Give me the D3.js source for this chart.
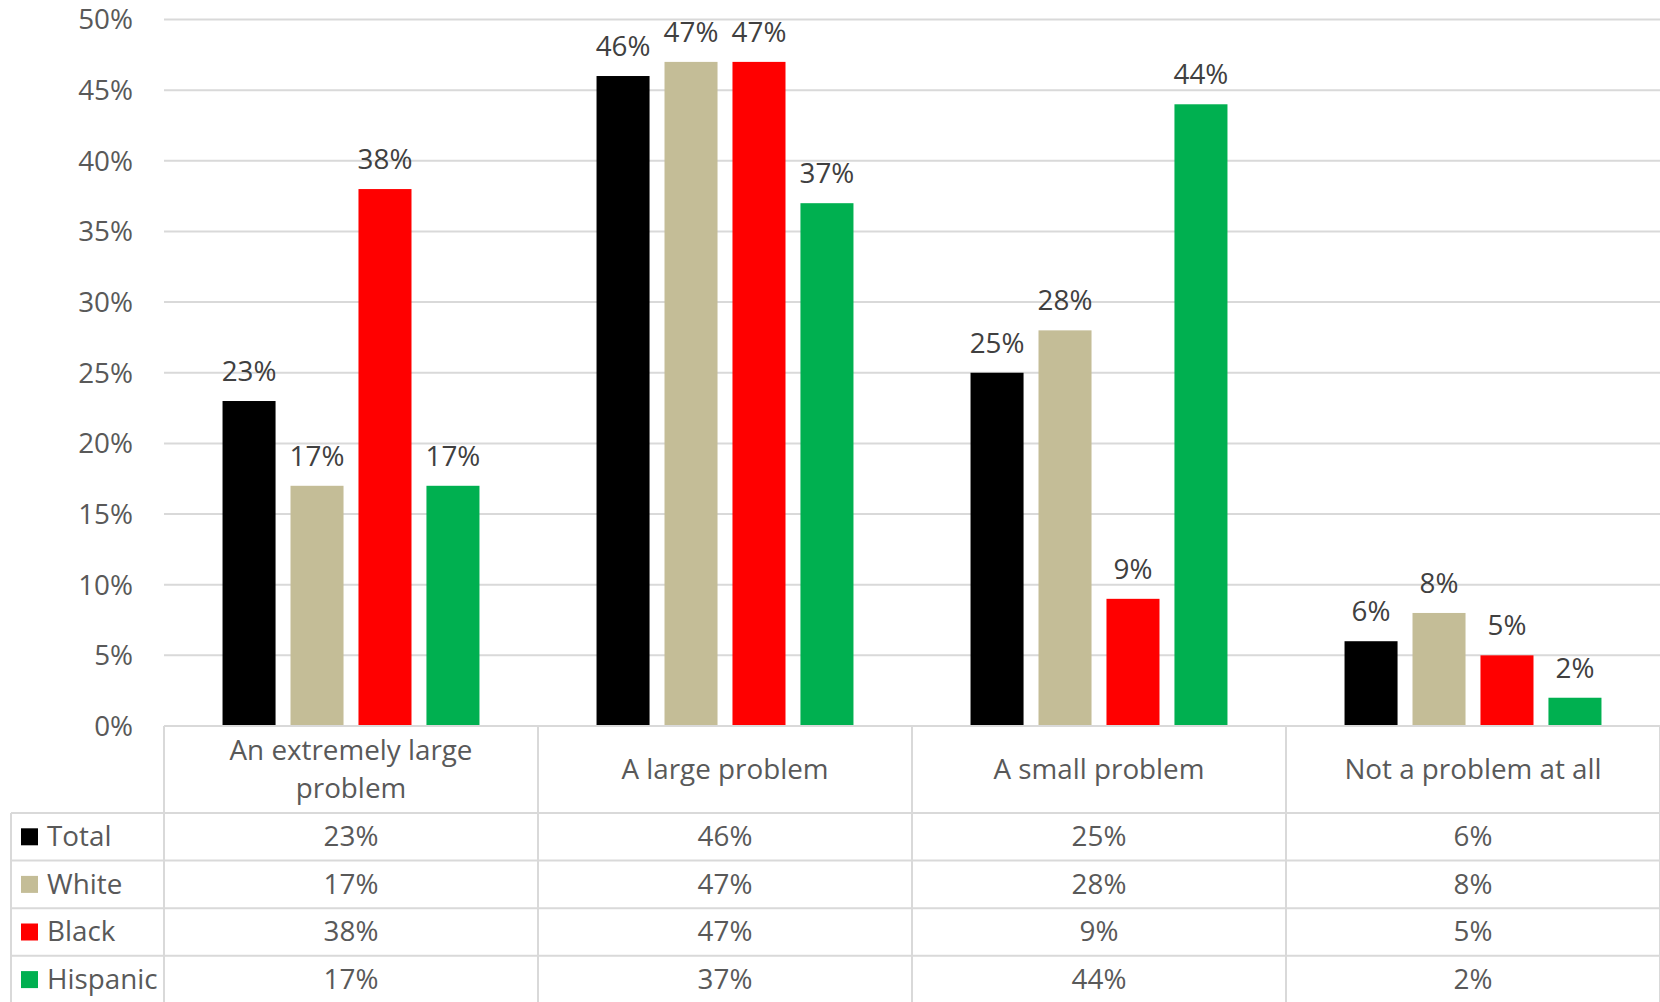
<!DOCTYPE html>
<html>
<head>
<meta charset="utf-8">
<script src="https://cdn.jsdelivr.net/npm/d3@7"></script>
<style>
  html, body { margin: 0; padding: 0; background: #fff; }
  svg { display: block; }
  text { font-family: "Open Sans", "Noto Sans", sans-serif; }
</style>
</head>
<body>
<svg id="chart" width="1660" height="1002"></svg>
<script>
// ---- data ----
const categories = ["An extremely large problem", "A large problem", "A small problem", "Not a problem at all"];
const categoryLines = [["An extremely large", "problem"], ["A large problem"], ["A small problem"], ["Not a problem at all"]];
const seriesNames = ["Total", "White", "Black", "Hispanic"];
const totalValues = [23, 46, 25, 6];
const whiteValues = [17, 47, 28, 8];
const blackValues = [38, 47, 9, 5];
const hispanicValues = [17, 37, 44, 2];
const yTicks = [0, 5, 10, 15, 20, 25, 30, 35, 40, 45, 50];
const seriesColors = ["#000000", "#c4bd97", "#ff0000", "#00b050"];

const seriesValues = [totalValues, whiteValues, blackValues, hispanicValues];

// ---- layout ----
const W = 1660, H = 1002;
const plotLeft = 164, plotRight = 1660, plotTop = 19.5, plotBottom = 726;
const headerBottom = 813;
const rowH = 47.6;
const legendLeft = 11;
const gridColor = "#d9d9d9";
const axisText = "#595959";
const labelText = "#404040";
const fs = 27.8;

const svg = d3.select("#chart");

const x0 = d3.scaleBand().domain(categories).range([plotLeft, plotRight]).paddingInner(0.313).paddingOuter(0.1565);
const x1 = d3.scaleBand().domain(seriesNames).range([0, x0.bandwidth()]).paddingInner(0.22).paddingOuter(0);
const y = d3.scaleLinear().domain([0, 50]).range([plotBottom, plotTop]);

// gridlines
svg.append("g").selectAll("line").data(yTicks.filter(t => t > 0)).join("line")
  .attr("x1", plotLeft).attr("x2", plotRight)
  .attr("y1", d => y(d)).attr("y2", d => y(d))
  .attr("stroke", gridColor).attr("stroke-width", 2);

// y axis labels
const yAxis = d3.axisLeft(y).tickValues(yTicks).tickFormat(d => d + "%").tickSize(0).tickPadding(0);
const gy = svg.append("g").attr("transform", `translate(133,0)`).call(yAxis);
gy.select(".domain").remove();
gy.selectAll("text").attr("font-size", fs).attr("fill", axisText)
  .attr("font-family", '"Open Sans", sans-serif').attr("dy", "0.34em");

// bars
const data = [];
categories.forEach((c, i) => {
  seriesNames.forEach((s, j) => data.push({ cat: c, ser: s, val: seriesValues[j][i], color: seriesColors[j] }));
});

svg.append("g").selectAll("rect").data(data).join("rect")
  .attr("x", d => x0(d.cat) + x1(d.ser))
  .attr("width", x1.bandwidth())
  .attr("y", d => y(d.val))
  .attr("height", d => y(0) - y(d.val))
  .attr("fill", d => d.color);

// data labels
svg.append("g").selectAll("text").data(data).join("text")
  .attr("x", d => x0(d.cat) + x1(d.ser) + x1.bandwidth() / 2)
  .attr("y", d => y(d.val) - 20)
  .attr("text-anchor", "middle")
  .attr("font-size", fs)
  .attr("fill", labelText)
  .text(d => d.val + "%");

// ---- data table ----
const tbl = svg.append("g");
const step = (plotRight - plotLeft) / categories.length;
const tableBottom = headerBottom + rowH * seriesNames.length;

// axis / table top line
tbl.append("line").attr("x1", plotLeft).attr("x2", plotRight).attr("y1", plotBottom).attr("y2", plotBottom)
  .attr("stroke", gridColor).attr("stroke-width", 2);
// horizontal row lines
d3.range(seriesNames.length).forEach(k => {
  const yy = headerBottom + rowH * k;
  tbl.append("line").attr("x1", legendLeft).attr("x2", plotRight).attr("y1", yy).attr("y2", yy)
    .attr("stroke", gridColor).attr("stroke-width", 2);
});
// vertical lines
d3.range(categories.length + 1).forEach(k => {
  const xx = plotLeft + step * k;
  tbl.append("line").attr("x1", xx).attr("x2", xx).attr("y1", plotBottom).attr("y2", tableBottom + 10)
    .attr("stroke", gridColor).attr("stroke-width", 2);
});
tbl.append("line").attr("x1", legendLeft).attr("x2", legendLeft).attr("y1", headerBottom).attr("y2", tableBottom + 10)
  .attr("stroke", gridColor).attr("stroke-width", 2);

// category labels
categories.forEach((c, i) => {
  const cx = x0(c) + x0.bandwidth() / 2;
  const lines = categoryLines[i];
  const lh = 38;
  const cy = (plotBottom + headerBottom) / 2;
  lines.forEach((ln, k) => {
    tbl.append("text")
      .attr("x", cx)
      .attr("y", cy + (k - (lines.length - 1) / 2) * lh)
      .attr("dy", "0.34em")
      .attr("text-anchor", "middle")
      .attr("font-size", fs)
      .attr("fill", axisText)
      .text(ln);
  });
});

// rows
seriesNames.forEach((s, j) => {
  const cy = headerBottom + rowH * j + rowH / 2;
  tbl.append("rect").attr("x", 21).attr("y", cy - 8.5).attr("width", 17).attr("height", 17).attr("fill", seriesColors[j]);
  tbl.append("text").attr("x", 47).attr("y", cy).attr("dy", "0.34em")
    .attr("font-size", fs).attr("fill", axisText).text(s);
  categories.forEach((c, i) => {
    tbl.append("text")
      .attr("x", x0(c) + x0.bandwidth() / 2)
      .attr("y", cy).attr("dy", "0.34em")
      .attr("text-anchor", "middle")
      .attr("font-size", fs).attr("fill", axisText)
      .text(seriesValues[j][i] + "%");
  });
});
</script>
</body>
</html>
